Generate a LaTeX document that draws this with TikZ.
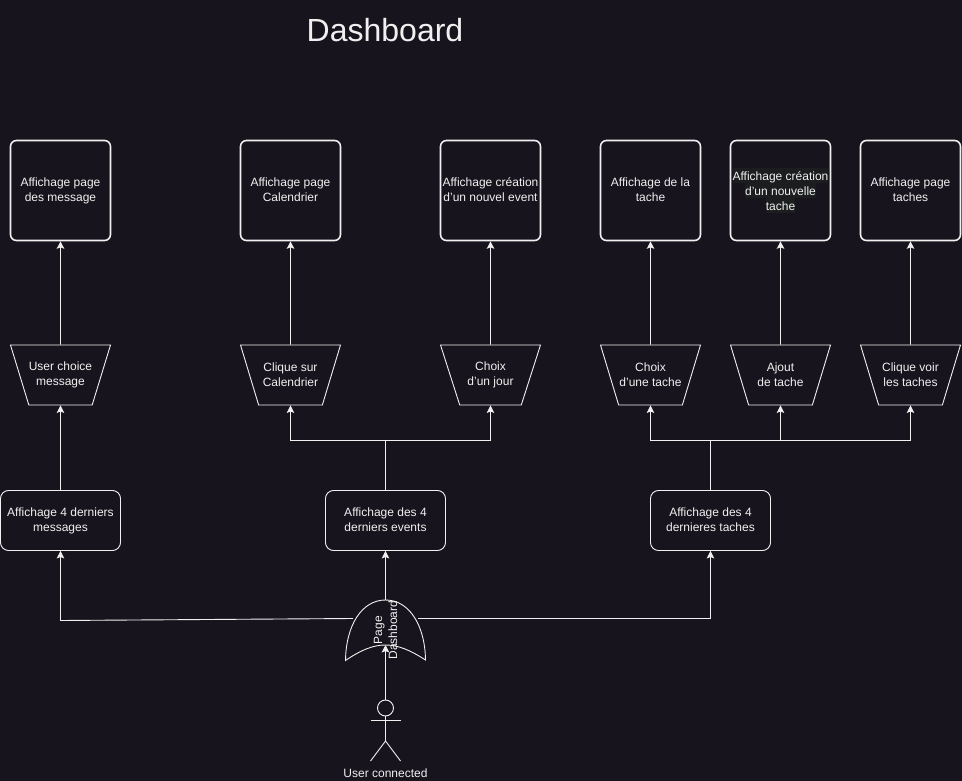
\documentclass[tikz,border=0pt]{standalone}
\usepackage{fontspec}
\setmainfont{Liberation Sans}
\usetikzlibrary{shapes.geometric,arrows.meta}
\definecolor{bgdark}{HTML}{18141D}
\definecolor{linelight}{HTML}{F0F0F0}
\definecolor{textback}{HTML}{1B1D1E}
\newcommand{\linestrut}{\rule[-1pt]{0pt}{14.8pt}}
\newcommand{\hlbox}[1]{{\setlength{\fboxsep}{0pt}\colorbox{textback}{\rule[-2.6pt]{0pt}{14.6pt}#1}}}

\begin{document}
\begin{tikzpicture}[x=1pt,y=-1pt,>={Stealth[length=7.5pt,width=7.5pt,inset=1.5pt]},
    every node/.style={text=linelight,font=\fontsize{12}{15}\selectfont,align=center,inner sep=0pt,
        execute at begin node=\linestrut,execute at end node=\linestrut},
    nostrut/.style={execute at begin node={},execute at end node={}},
    conn/.style={draw=linelight,line width=.9pt},
    page/.style={draw=linelight,line width=1.6pt,rounded corners=6pt,minimum size=100pt},
    choice/.style={draw=linelight,line width=.9pt,trapezium,trapezium stretches body=true,shape border rotate=180,
        trapezium angle=53.7,minimum width=100pt,minimum height=60pt},
    last/.style={draw=linelight,line width=.9pt,rounded corners=8pt,minimum width=120pt,minimum height=60pt}]
    \fill[bgdark] (0,0) rectangle (962,781);
    \useasboundingbox (0,0) rectangle (962,781);
    \node[nostrut,font=\fontsize{32}{36}\selectfont] (title) at (385,30) {Dashboard};

    \node[page] (msgpage) at (60.5,190.5) {Affichage page\\des message};
    \node[page] (calpage) at (290.5,190.5) {Affichage page\\Calendrier};
    \node[page] (eventpage) at (490.5,190.5) {Affichage création\\d'un nouvel event};
    \node[page] (taskpage) at (650.5,190.5) {Affichage de la\\tache};
    \node[page,nostrut] (newpage) at (780.5,190.5) {\hlbox{Affichage création}\\\hlbox{d'un nouvelle}\\\hlbox{tache}};
    \node[page] (allpage) at (910.5,190.5) {Affichage page\\taches};

    \node[choice,trapezium angle=55] (msgchoice) at (60.5,375) {User choice\\message};
    \node[choice] (calchoice) at (290.5,375) {Clique sur\\Calendrier};
    \node[choice] (eventchoice) at (490.5,375) {Choix\\d'un jour};
    \node[choice] (taskchoice) at (650.5,375) {Choix\\d'une tache};
    \node[choice] (newchoice) at (780.5,375) {Ajout\\de tache};
    \node[choice] (allchoice) at (910.5,375) {Clique voir\\les taches};

    \node[last] (msglast) at (60.5,520.5) {Affichage 4 derniers\\messages};
    \node[last] (eventlast) at (385.5,520.5) {Affichage des 4\\derniers events};
    \node[last] (tasklast) at (710.5,520.5) {Affichage des 4\\dernieres taches};

    \coordinate (eventbus) at (385.5,440.5);
    \coordinate (taskbus) at (710.5,440.5);
    \coordinate (dashtop) at (385.5,600);
    \coordinate (dashleft) at (353,618.5);
    \coordinate (dashright) at (418,618.5);
    \coordinate (dashtip) at (385.5,645);

    \draw[conn] (345.5,660.5) .. controls (346,625) and (362,600) .. (dashtop)
        .. controls (409,600) and (425,625) .. (425.5,660)
        .. controls (410,650) and (398,645) .. (dashtip)
        .. controls (373,645) and (361,650) .. cycle;
    \node[rotate=90] (dash) at (386,630) {Page\\Dashboard};

    \node[nostrut,draw=linelight,line width=.9pt,circle,minimum size=16pt] (actor) at (385.5,708) {};
    \coordinate (arml) at (370.5,720.5);
    \coordinate (armr) at (400.5,720.5);
    \coordinate (hip) at (385.5,741);
    \coordinate (legl) at (370.5,761);
    \coordinate (legr) at (400.5,761);
    \draw[conn] (actor) -- (hip);
    \draw[conn] (arml) -- (armr);
    \draw[conn] (legl) -- (hip) -- (legr);
    \node (user) at (385.5,771.5) {User connected};

    \draw[conn,->] (msgchoice.north) -- (msgpage);
    \draw[conn,->] (calchoice.north) -- (calpage);
    \draw[conn,->] (eventchoice.north) -- (eventpage);
    \draw[conn,->] (taskchoice.north) -- (taskpage);
    \draw[conn,->] (newchoice.north) -- (newpage);
    \draw[conn,->] (allchoice.north) -- (allpage);
    \draw[conn,->] (msglast) -- (msgchoice.south);
    \draw[conn] (eventlast) -- (eventbus);
    \draw[conn,->] (eventbus) -| (calchoice.south);
    \draw[conn,->] (eventbus) -| (eventchoice.south);
    \draw[conn] (tasklast) -- (taskbus);
    \draw[conn,->] (taskbus) -| (taskchoice.south);
    \draw[conn,->] (taskbus) -| (allchoice.south);
    \draw[conn,->] (newchoice.south |- taskbus) -- (newchoice.south);
    \draw[conn,->] (dashtop) -- (eventlast);
    \draw[conn,->] (dashleft) -- (60.5,620.5) -- (msglast);
    \draw[conn,->] (dashright) -| (tasklast);
    \draw[conn,->] (actor) -- (dashtip);
\end{tikzpicture}
\end{document}
